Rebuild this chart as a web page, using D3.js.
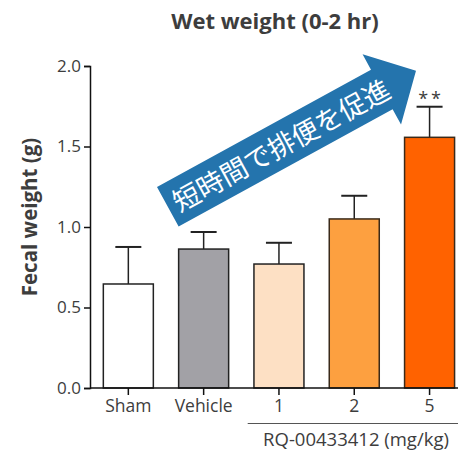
<!DOCTYPE html>
<html><head><meta charset="utf-8">
<script src="https://cdn.jsdelivr.net/npm/d3@7"></script>
<style>
html,body{margin:0;padding:0;background:#fff;}
svg{display:block;}
</style></head>
<body>
<svg id="chart" width="458" height="454"></svg>
<script>
const categories = ["Sham", "Vehicle", "1", "2", "5"];
const means = [0.646, 0.863, 0.770, 1.050, 1.557];
const errors = [0.230, 0.106, 0.132, 0.144, 0.190];
const significance = ["", "", "", "", "**"];
const yTicks = [0, 0.5, 1.0, 1.5, 2.0];
const fills = ["#ffffff", "#a2a1a6", "#fde0c4", "#fda040", "#ff6200"];
const strokes = ["#222222", "#222222", "#222222", "#3a2a1a", "#3a2a1a"];
const title = "Wet weight (0-2 hr)";
const yLabel = "Fecal weight (g)";
const groupLabel = "RQ-00433412 (mg/kg)";
const groupMembers = ["1", "2", "5"];
const arrowText = "短時間で排便を促進";

const svg = d3.select("#chart");
const textColor = "#3d3d3d";
const font = "'Open Sans', sans-serif";

const x = d3.scaleBand().domain(categories).range([90, 467.9]).paddingInner(0.336).paddingOuter(0.177);
const y = d3.scaleLinear().domain([0, 2]).range([388, 66]);

// Title
svg.append("text").attr("x", 275).attr("y", 29).attr("text-anchor", "middle")
  .attr("font-family", font).attr("font-weight", "bold").attr("font-size", 22)
  .attr("fill", textColor).text(title);

// Y label
svg.append("text").attr("transform", "translate(37,217) rotate(-90)")
  .attr("text-anchor", "middle").attr("font-family", font).attr("font-weight", "bold")
  .attr("font-size", 20.5).attr("fill", textColor).text(yLabel);

// Arrow
const tail = [167.8, 206.7], tip = [416, 70.7];
const ang = Math.atan2(tip[1] - tail[1], tip[0] - tail[0]) * 180 / Math.PI;
const len = Math.hypot(tip[0] - tail[0], tip[1] - tail[1]);
const arrowG = svg.append("g").attr("transform", `translate(${tail[0]},${tail[1]}) rotate(${ang})`);
const headLen = 39, shaftHW = 22.5, headHW = 40;
arrowG.append("path")
  .attr("d", `M0,${-shaftHW} L${len - headLen},${-shaftHW} L${len - headLen},${-headHW} L${len},0 L${len - headLen},${headHW} L${len - headLen},${shaftHW} L0,${shaftHW} Z`)
  .attr("fill", "#2474ad");
arrowG.append("text").attr("x", 129).attr("y", 1).attr("dy", "0.36em")
  .attr("text-anchor", "middle").attr("font-family", "'Noto Sans CJK JP', sans-serif")
  .attr("font-size", 27).attr("fill", "#ffffff").text(arrowText);

// Bars
const bars = svg.append("g");
categories.forEach((c, i) => {
  const cx = x(c) + x.bandwidth() / 2;
  bars.append("line").attr("x1", cx).attr("x2", cx).attr("y1", y(means[i])).attr("y2", y(means[i] + errors[i]))
    .attr("stroke", "#222").attr("stroke-width", 1.5);
  bars.append("line").attr("x1", cx - 13).attr("x2", cx + 13).attr("y1", y(means[i] + errors[i])).attr("y2", y(means[i] + errors[i]))
    .attr("stroke", "#222").attr("stroke-width", 2);
  bars.append("rect").attr("x", x(c)).attr("width", x.bandwidth())
    .attr("y", y(means[i])).attr("height", y(0) - y(means[i]))
    .attr("fill", fills[i]).attr("stroke", strokes[i]).attr("stroke-width", 1.5);
  if (significance[i]) {
    bars.append("text").attr("x", cx + 1.5).attr("y", y(means[i] + errors[i]) - 2)
      .attr("text-anchor", "middle").attr("font-family", font).attr("font-size", 18)
      .attr("letter-spacing", 3).attr("fill", textColor).text(significance[i]);
  }
});

// Y axis
const yAxis = svg.append("g").attr("transform", "translate(90,0)")
  .call(d3.axisLeft(y).tickValues(yTicks).tickFormat(d3.format(".1f")).tickSize(6).tickPadding(3));
yAxis.select(".domain").attr("stroke", "#111").attr("stroke-width", 1.5);
yAxis.selectAll(".tick line").attr("stroke", "#111").attr("stroke-width", 1.5);
yAxis.selectAll(".tick text").attr("font-family", font).attr("font-size", 17).attr("fill", textColor);

// X axis
const xAxis = svg.append("g").attr("transform", "translate(0,388)")
  .call(d3.axisBottom(x).tickSize(7).tickPadding(5));
xAxis.select(".domain").remove();
xAxis.append("line").attr("x1", 90).attr("x2", 458).attr("y1", 0).attr("y2", 0)
  .attr("stroke", "#111").attr("stroke-width", 1.5);
xAxis.selectAll(".tick line").attr("stroke", "#111").attr("stroke-width", 1.5);
xAxis.selectAll(".tick text").attr("font-family", font).attr("font-size", 17.5).attr("fill", textColor);

// Group bracket
svg.append("line").attr("x1", 247.7).attr("x2", 458).attr("y1", 423.5).attr("y2", 423.5)
  .attr("stroke", "#555").attr("stroke-width", 1);
svg.append("text").attr("x", 356).attr("y", 446).attr("text-anchor", "middle")
  .attr("font-family", font).attr("font-size", 18.5).attr("fill", textColor).text(groupLabel);
</script>
</body></html>
